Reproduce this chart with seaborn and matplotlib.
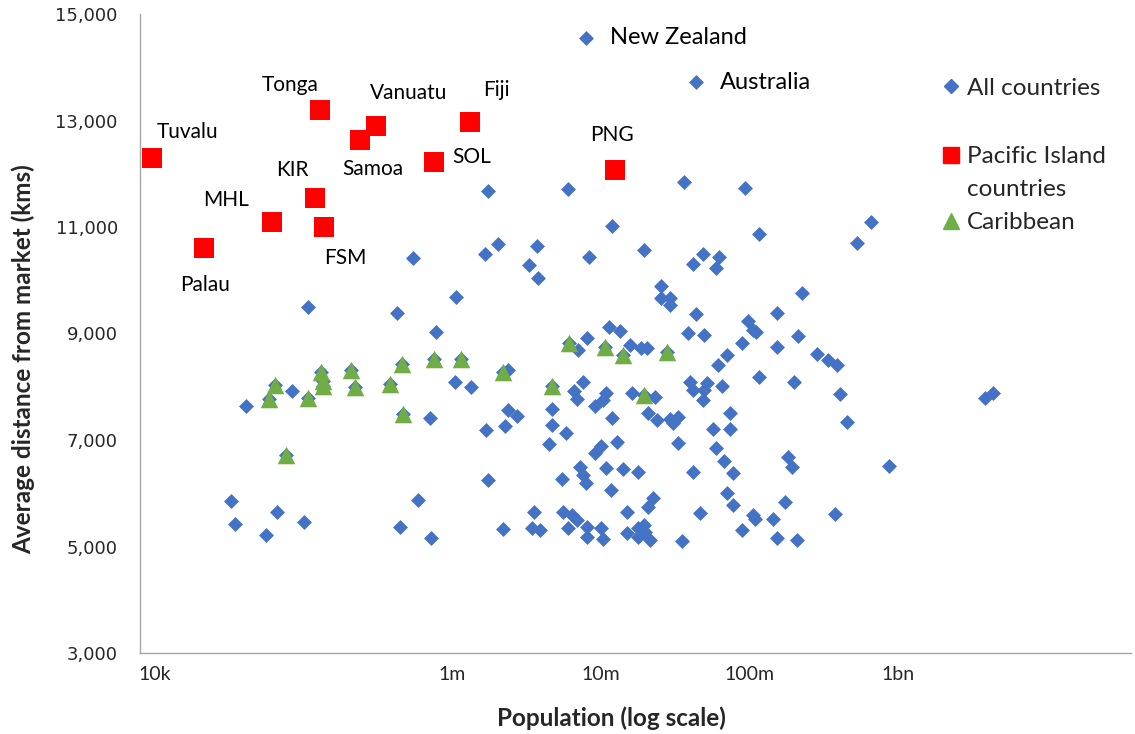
import numpy as np
import pandas as pd
import matplotlib
matplotlib.use("Agg")
import matplotlib.pyplot as plt
import seaborn as sns
from matplotlib.lines import Line2D
from matplotlib.ticker import FuncFormatter, NullLocator

# ---------------- data ----------------
# log10(population) and average distance from market (km) of all countries
all_log_pop = [6.24, 6.78, 7.08, 7.29, 6.31, 6.57, 6.22, 6.92, 5.74, 6.52, 6.58, 6.03, 5.63, 5.89, 6.91,
               5.03, 4.92, 4.61, 4.51, 4.54, 4.82, 4.75, 5.00, 5.65, 6.02, 6.13, 5.85, 6.38, 6.44, 6.36,
               6.23, 6.67, 6.67, 6.77, 6.65, 6.88, 6.82, 6.84, 6.38, 6.85, 6.24, 6.74, 6.86, 6.88, 6.90,
               5.77, 5.86, 6.34, 6.55, 6.54, 6.59, 6.75, 6.81, 6.84, 6.78, 6.91, 6.91, 7.56, 7.97, 8.07,
               7.62, 7.69, 7.80, 7.78, 7.41, 7.41, 7.47, 7.47, 7.64, 7.99, 8.03, 8.05, 7.06, 7.13, 7.59,
               7.70, 7.95, 8.19, 8.19, 7.20, 7.27, 7.31, 7.85, 7.79, 8.07, 7.60, 7.62, 7.72, 7.82, 7.70,
               7.69, 7.04, 7.02, 6.96, 7.21, 7.37, 7.32, 7.38, 7.08, 7.47, 7.52, 7.49, 7.87, 7.76, 7.87,
               7.00, 6.96, 7.11, 7.52, 7.78, 7.83, 7.89, 7.04, 7.15, 7.25, 7.62, 7.07, 7.85, 7.89, 7.35,
               7.32, 7.18, 7.67, 8.03, 8.04, 8.16, 7.95, 8.19, 7.55, 7.00, 7.02, 7.18, 7.25, 7.29, 7.30,
               7.33, 7.25, 8.82, 8.73, 8.36, 8.33, 8.46, 8.53, 8.59, 8.30, 8.61, 8.66, 8.26, 8.29, 8.94,
               8.24, 8.58, 8.32, 9.59, 9.64]
all_dist = [11680, 11710, 11020, 10570, 10680, 10640, 10490, 10440, 10420, 10290, 10040, 9690, 9390, 9030, 8920,
            9500, 7920, 7640, 5850, 5420, 5650, 5220, 5460, 5370, 8090, 8000, 7410, 7560, 7450, 7260,
            7190, 7580, 7280, 7130, 6930, 8090, 7920, 7770, 8310, 8690, 6250, 6270, 6490, 6340, 6190,
            5870, 5160, 5330, 5650, 5350, 5310, 5650, 5590, 5500, 5350, 5370, 5180, 11850, 11730, 10870,
            10310, 10490, 10440, 10230, 9890, 9670, 9670, 9540, 9370, 9230, 9070, 9030, 9120, 9050, 9010,
            8970, 8820, 9390, 8750, 8780, 8730, 8730, 8600, 8410, 8180, 8090, 7940, 8070, 8010, 7940,
            7750, 7880, 7750, 7640, 7880, 7810, 7510, 7380, 7410, 7390, 7430, 7320, 7510, 7210, 7210,
            6890, 6760, 6960, 6940, 6850, 6610, 6380, 6470, 6460, 6400, 6400, 6060, 6000, 5780, 5910,
            5740, 5650, 5630, 5590, 5520, 5520, 5310, 5160, 5100, 5350, 5140, 5250, 5350, 5400, 5270,
            5120, 5180, 11090, 10700, 9760, 8950, 8620, 8500, 8410, 8090, 7860, 7340, 6680, 6490, 6510,
            5840, 5610, 5120, 7790, 7880]

# Caribbean countries
car_log_pop = [4.77, 4.81, 4.88, 5.03, 5.12, 5.13, 5.13, 5.32, 5.35, 5.58, 5.66, 5.67, 5.88, 6.06,
               6.34, 6.67, 6.79, 7.03, 7.15, 7.45, 7.29]
car_dist = [7770, 8030, 6720, 7790, 8280, 8110, 8010, 8310, 8000, 8050, 8430, 7490, 8520, 8520,
            8280, 8010, 8820, 8750, 8600, 8650, 7850]

# Pacific Island countries
pic_names = ["Tuvalu", "Tonga", "Samoa", "Vanuatu", "Fiji", "SOL", "PNG", "KIR", "MHL", "FSM", "Palau"]
pic_log_pop = [3.98, 5.11, 5.38, 5.49, 6.12, 5.88, 7.10, 5.08, 4.79, 5.14, 4.33]
pic_dist = [12300, 13200, 12630, 12900, 12970, 12220, 12070, 11540, 11090, 11000, 10610]

# Named other countries
named_names = ["New Zealand", "Australia"]
named_log_pop = [6.90, 7.64]
named_dist = [14550, 13720]

x_tick_values = [1e4, 1e6, 1e7, 1e8, 1e9]
x_tick_labels = ["10k", "1m", "10m", "100m", "1bn"]
y_ticks = [3000, 5000, 7000, 9000, 11000, 13000, 15000]

# ---------------- style ----------------
BLUE = "#4472C4"
RED = "#FF0000"
GREEN = "#70AD47"
AXIS_GREY = "#A6A6A6"

sns.set_style("white")
plt.rcParams["font.family"] = ["Lato", "DejaVu Sans"]

fig = plt.figure(figsize=(11.35, 7.34), dpi=100)
W, H = 1135, 734
ax = fig.add_axes([140 / W, 1 - 653 / H, 991 / W, 639 / H])
ax.set_xscale("log")

df_all = pd.DataFrame({
    "pop": 10 ** np.array(all_log_pop + car_log_pop + named_log_pop),
    "dist": all_dist + car_dist + named_dist,
})
df_pic = pd.DataFrame({"pop": 10 ** np.array(pic_log_pop), "dist": pic_dist, "name": pic_names})
df_car = pd.DataFrame({"pop": 10 ** np.array(car_log_pop), "dist": car_dist})

sns.scatterplot(data=df_all, x="pop", y="dist", marker="D", s=58, color=BLUE,
                linewidth=0, ax=ax, legend=False, zorder=3)
sns.scatterplot(data=df_car, x="pop", y="dist", marker="^", s=160, color=GREEN,
                linewidth=0, ax=ax, legend=False, zorder=4)
sns.scatterplot(data=df_pic, x="pop", y="dist", marker="s", s=200, color=RED,
                linewidth=0, ax=ax, legend=False, zorder=5)

# Pacific labels (offsets in pixels)
pic_offsets = {"Tuvalu": (36, 26), "Tonga": (-30, 25), "Samoa": (13, -29), "Vanuatu": (32, 33),
               "Fiji": (27, 32), "SOL": (38, 5), "PNG": (-3, 35), "KIR": (-23, 28),
               "MHL": (-46, 22), "FSM": (21, -31), "Palau": (1, -37)}
for name, lp, d in zip(pic_names, pic_log_pop, pic_dist):
    ax.annotate(name, (10 ** lp, d), xytext=pic_offsets[name], textcoords="offset pixels",
                ha="center", va="center", fontsize=15, color="black", zorder=6)

for name, lp, d in zip(named_names, named_log_pop, named_dist):
    ax.annotate(name, (10 ** lp, d), xytext=(24, 0), textcoords="offset pixels",
                ha="left", va="center", fontsize=17, color="black", zorder=6)

# axes
ax.set_xlim(10 ** 3.899, 10 ** 10.572)
ax.set_ylim(3000, 15000)
ax.set_xticks(x_tick_values)
ax.set_xticklabels(x_tick_labels)
ax.xaxis.set_minor_locator(NullLocator())
ax.set_yticks(y_ticks)
ax.yaxis.set_major_formatter(FuncFormatter(lambda v, p: f"{int(v):,}"))
ax.tick_params(axis="x", length=0, pad=9, labelsize=14)
ax.tick_params(axis="y", length=4, width=1, color=AXIS_GREY, pad=12, labelsize=13)
for lab in ax.get_yticklabels():
    lab.set_fontfamily("DejaVu Sans")

for side in ["top", "right"]:
    ax.spines[side].set_visible(False)
for side in ["left", "bottom"]:
    ax.spines[side].set_color(AXIS_GREY)
    ax.spines[side].set_linewidth(1)

ax.set_xlabel("Population (log scale)", fontsize=17.5, fontweight="bold")
ax.set_ylabel("Average distance from market (kms)", fontsize=17.5, fontweight="bold")
ax.xaxis.set_label_coords(0.476, -0.083)
ax.yaxis.set_label_coords(-0.106, 0.46)

# legend (two blocks to reproduce the spacing of the original)
leg_kw = dict(frameon=False, fontsize=17.5, handlelength=0.8, handletextpad=0.25,
              borderpad=0, borderaxespad=0, loc="center left")
leg1 = ax.legend([Line2D([], [], marker="D", color=BLUE, linestyle="none", markersize=7)],
                 ["All countries"], bbox_to_anchor=(0.809, 0.884), **leg_kw)
ax.add_artist(leg1)
handles2 = [
    Line2D([], [], marker="s", color=RED, linestyle="none", markersize=12),
    Line2D([], [], linestyle="none"),
    Line2D([], [], marker="^", color=GREEN, linestyle="none", markersize=12),
]
ax.legend(handles2, ["Pacific Island", "countries", "Caribbean"], labelspacing=0.5,
          bbox_to_anchor=(0.809, 0.725), **leg_kw)

fig.savefig("out.png", dpi=100)
